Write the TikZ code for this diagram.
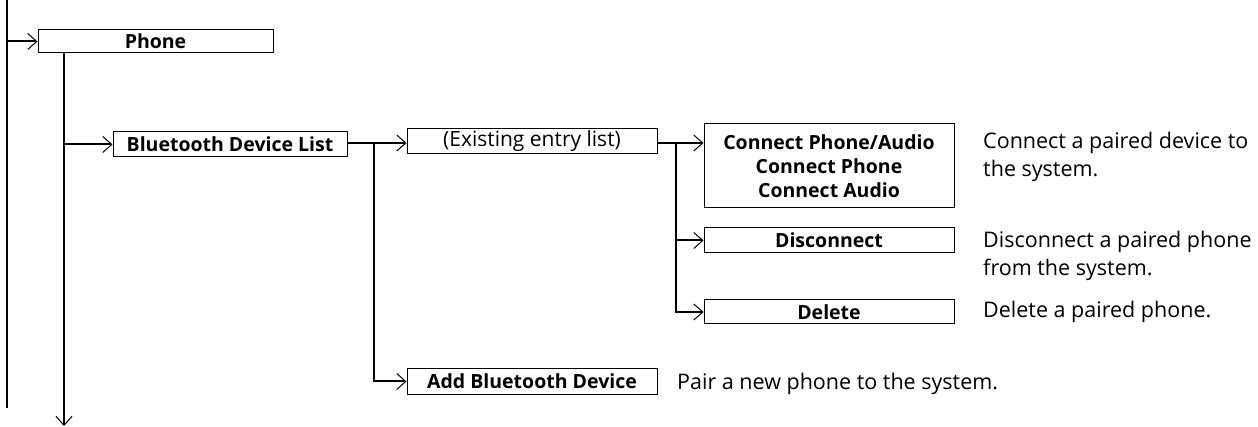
\documentclass[tikz,border=0pt]{standalone}
\usepackage{fontspec}
\setmainfont{Open Sans}
\usetikzlibrary{arrows.meta}
\begin{document}
\begin{tikzpicture}[x=1pt,y=-1pt,
  box/.style={draw, line width=1pt, inner sep=0pt, font=\fontsize{19.5}{22}\selectfont\bfseries},
  desc/.style={anchor=base west, inner sep=0pt, align=left, font=\fontsize{21.5}{28.5}\selectfont},
  conn/.style={line width=2pt, -{Straight Barb[length=9pt,width=16pt,line width=1pt]}},
  plain/.style={line width=2pt}]
\useasboundingbox (0,0) rectangle (1258,427);
% boxes
\node[box, minimum width=235pt, minimum height=23pt] (phone) at (155.5,41.5) {Phone};
\node[box, minimum width=234pt, minimum height=25pt] (bdl) at (230,144.5) {Bluetooth Device List};
\node[box, minimum width=250pt, minimum height=25pt, font=\fontsize{21}{24}\selectfont] (ex) at (532,141.5) {(Existing entry list)};
\node[box, minimum width=250pt, minimum height=84pt, align=center, font=\fontsize{19.5}{24}\selectfont\bfseries] (cn) at (829,166) {Connect Phone/Audio\\Connect Phone\\Connect Audio};
\node[box, minimum width=250pt, minimum height=25pt] (dis) at (829,240.5) {Disconnect};
\node[box, minimum width=250pt, minimum height=24pt] (del) at (829,312) {Delete};
\node[box, minimum width=250pt, minimum height=25pt] (add) at (532,381.5) {Add Bluetooth Device};
% descriptions
\node[desc] (t1) at (983,177) {Connect a paired device to\\the system.};
\node[desc] (t2) at (983,276) {Disconnect a paired phone\\from the system.};
\node[desc] (t3) at (983,318) {Delete a paired phone.};
\node[desc] (t4) at (677,389) {Pair a new phone to the system.};
% coordinates
\coordinate (top) at (7,0);
\coordinate (bot) at (7,408);
\coordinate (pd) at (64,426);
\coordinate (b1) at (374,143);
\coordinate (b2) at (676,143);
% connectors
\draw[plain] (top) -- (bot);
\draw[conn] (phone.west -| top) -- (phone.west);
\draw[conn] (phone.south -| pd) -- (pd);
\draw[conn] (bdl.west -| pd) -- (bdl.west);
\draw[plain] (bdl.east |- b1) -- (b1);
\draw[conn] (b1) -- (ex.west |- b1);
\draw[conn] (b1) |- (add.west);
\draw[plain] (ex.east |- b2) -- (b2);
\draw[conn] (b2) -- (cn.west |- b2);
\draw[conn] (b2) |- (dis.west);
\draw[conn] (b2) |- (del.west);
\end{tikzpicture}
\end{document}
